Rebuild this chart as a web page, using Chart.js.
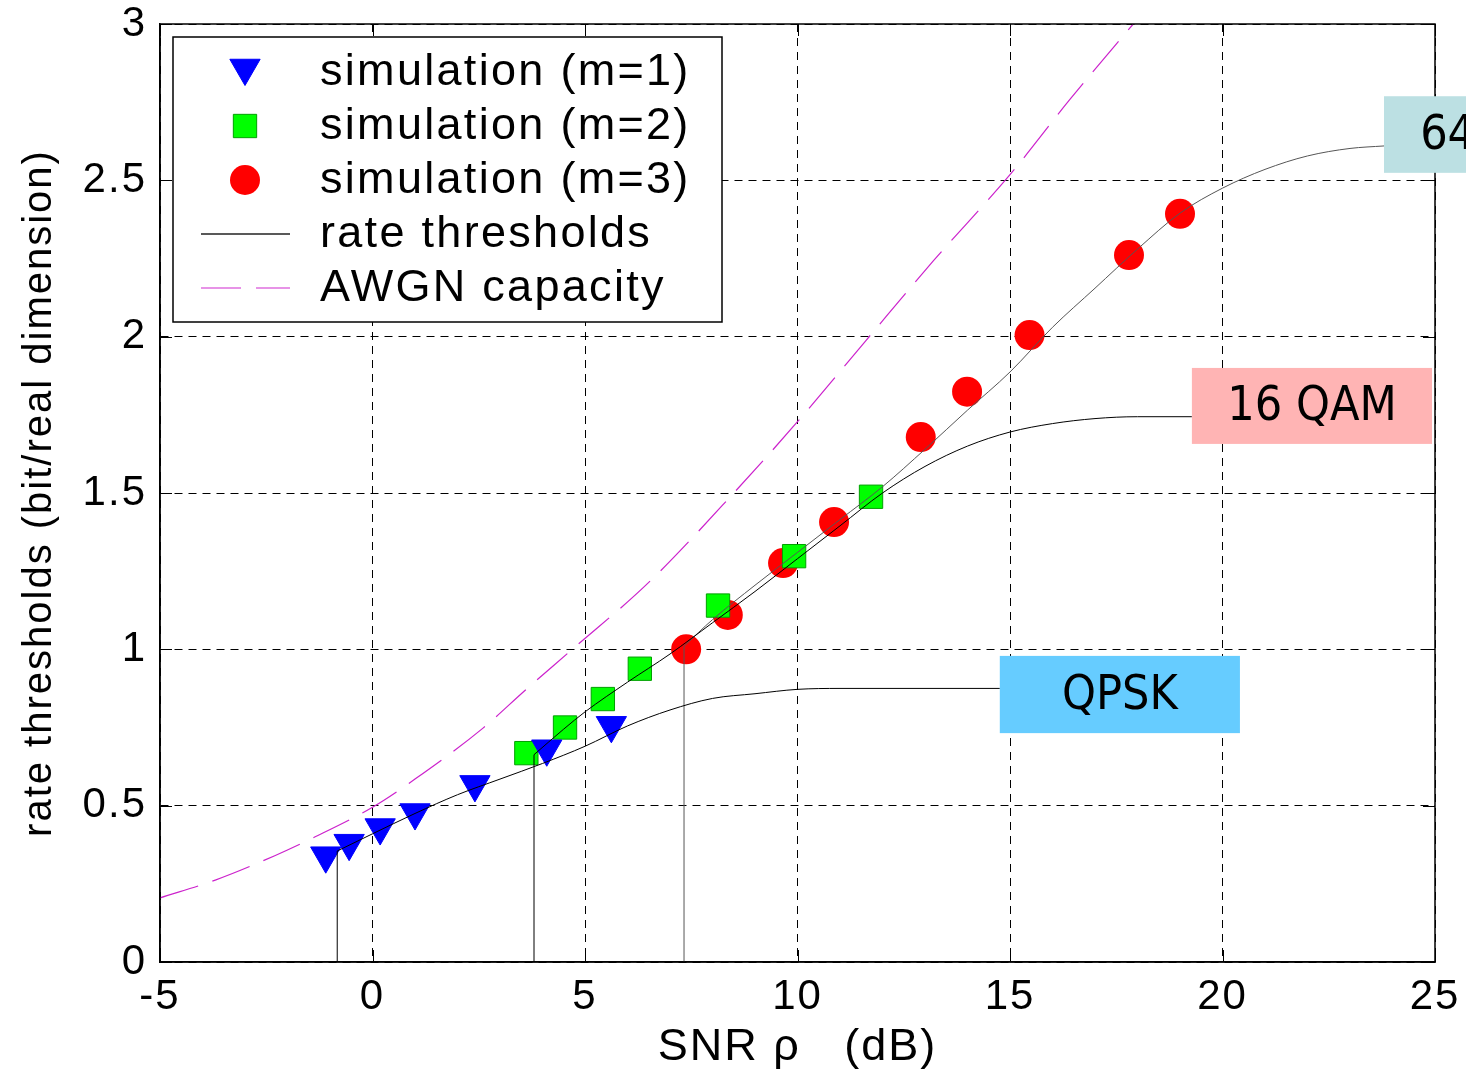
<!DOCTYPE html>
<html>
<head>
<meta charset="utf-8">
<script src="https://cdn.jsdelivr.net/npm/chart.js@4.4.1/dist/chart.umd.min.js"></script>
<style>
  html, body { margin: 0; padding: 0; background: #fff; }
  #wrap { width: 1466px; height: 1073px; position: relative; }
</style>
</head>
<body>
<div id="wrap"><canvas id="chart"></canvas></div>
<script>
// values
const xTicks = [-5, 0, 5, 10, 15, 20, 25];
const yTicks = [0, 0.5, 1, 1.5, 2, 2.5, 3];

const simM1Snr  = [-1.1, -0.55, 0.18, 1.0, 2.41, 4.1, 5.62];
const simM1Rate = [0.34, 0.38, 0.43, 0.478, 0.568, 0.682, 0.757];

const simM2Snr  = [3.62, 4.53, 5.42, 6.29, 8.13, 9.92, 11.73];
const simM2Rate = [0.668, 0.75, 0.841, 0.938, 1.14, 1.298, 1.488];

const simM3Snr  = [7.38, 8.36, 9.66, 10.86, 12.9, 13.99, 15.46, 17.8, 19.0];
const simM3Rate = [1.0, 1.11, 1.276, 1.407, 1.679, 1.824, 2.005, 2.261, 2.393];

// rate threshold curves (each starts with a vertical drop to the axis)
const thrM1Snr  = [-0.83, 0, 1, 2, 3, 4, 5, 6, 7, 8, 9, 10, 11, 14.76];
const thrM1Rate = [0.355, 0.41, 0.475, 0.535, 0.585, 0.635, 0.69, 0.755, 0.806, 0.843, 0.858, 0.872, 0.875, 0.875];

const thrM2Snr  = [3.8, 4.5, 5, 6, 7, 8, 9, 10, 11, 12, 13, 14, 15, 16, 17, 18, 19.28];
const thrM2Rate = [0.663, 0.745, 0.80, 0.895, 0.985, 1.085, 1.185, 1.29, 1.395, 1.50, 1.585, 1.65, 1.695, 1.722, 1.738, 1.744, 1.744];

const thrM3Snr  = [7.33, 8, 9, 10, 11, 12, 13, 14, 15, 16, 17, 18, 19, 20, 21, 22, 23, 23.8];
const thrM3Rate = [1.01, 1.095, 1.205, 1.31, 1.415, 1.52, 1.64, 1.765, 1.887, 2.03, 2.155, 2.28, 2.395, 2.475, 2.535, 2.578, 2.602, 2.61];

const awgnSnr  = [-5, -3.7, -2.3, -1.4, 0, 1, 2.6, 3.6, 4.7, 6.5, 8.5, 10, 11.6, 13.2, 15, 16.4, 17.9];
const awgnRate = [0.205, 0.262, 0.34, 0.397, 0.495, 0.585, 0.748, 0.87, 1.0, 1.214, 1.5, 1.728, 1.986, 2.243, 2.518, 2.757, 3.0];

// modulation labels, placed in data units
const modLabels = [
  { text: 'QPSK',   x0: 14.76, x1: 20.41, y0: 0.732, y1: 0.979, fill: '#66CCFF', textX: null },
  { text: '16 QAM', x0: 19.28, x1: 24.93, y0: 1.657, y1: 1.90,  fill: '#FFB4B4', textX: null },
  { text: '64 QAM', x0: 23.8,  x1: 27.0,  y0: 2.524, y1: 2.769, fill: '#BCE0E3', textX: 24.65 }
];

const toPts = (xs, ys) => xs.map((x, i) => ({ x: x, y: ys[i] }));
const dropLine = (xs, ys) => [{ x: xs[0], y: 0 }, { x: xs[0], y: ys[0] }];

const FONT = "'Liberation Sans', Arial, sans-serif";
const BOX_FONT = "'DejaVu Sans Condensed', 'DejaVu Sans', sans-serif";

const frameAndLabels = {
  id: 'frameAndLabels',
  beforeDraw(chart) {
    chart.ctx.letterSpacing = '2px';
  },
  afterDraw(chart) {
    const ctx = chart.ctx;
    const { left, right, top, bottom } = chart.chartArea;
    const xs = chart.scales.x, ys = chart.scales.y;
    ctx.save();
    ctx.letterSpacing = '0px';

    // inward ticks
    ctx.strokeStyle = '#000';
    ctx.lineWidth = 1;
    ctx.beginPath();
    xTicks.forEach(v => {
      const px = Math.round(xs.getPixelForValue(v)) + 0.5;
      ctx.moveTo(px, bottom); ctx.lineTo(px, bottom - 12);
      ctx.moveTo(px, top); ctx.lineTo(px, top + 12);
    });
    yTicks.forEach(v => {
      const py = Math.round(ys.getPixelForValue(v)) + 0.5;
      ctx.moveTo(left, py); ctx.lineTo(left + 12, py);
      ctx.moveTo(right, py); ctx.lineTo(right - 12, py);
    });
    ctx.stroke();

    // frame
    ctx.lineWidth = 1.5;
    ctx.strokeRect(left, top, right - left, bottom - top);

    // modulation boxes
    modLabels.forEach(m => {
      const x0 = xs.getPixelForValue(m.x0), x1 = xs.getPixelForValue(m.x1);
      const y0 = ys.getPixelForValue(m.y0), y1 = ys.getPixelForValue(m.y1);
      ctx.fillStyle = m.fill;
      ctx.fillRect(x0, y1, x1 - x0, y0 - y1);
      ctx.fillStyle = '#000';
      ctx.font = '48px ' + BOX_FONT;
      ctx.textBaseline = 'middle';
      if (m.textX === null) {
        ctx.textAlign = 'center';
        ctx.fillText(m.text, (x0 + x1) / 2, (y0 + y1) / 2 + 2);
      } else {
        ctx.textAlign = 'left';
        ctx.fillText(m.text, xs.getPixelForValue(m.textX), (y0 + y1) / 2 + 2);
      }
    });

    // legend
    const lx = left + 13, ly = top + 13, lw = 549, lh = 285;
    ctx.fillStyle = '#fff';
    ctx.fillRect(lx, ly, lw, lh);
    ctx.lineWidth = 1.5;
    ctx.strokeStyle = '#000';
    ctx.strokeRect(lx, ly, lw, lh);

    const items = chart.data.datasets.filter(d => d.label);
    items.forEach((d, i) => {
      const cy = ly + 35 + i * 54;
      const sx = lx + 72;
      if (d.showLine) {
        ctx.save();
        ctx.strokeStyle = d.legendColor || d.borderColor;
        ctx.lineWidth = d.borderWidth + 0.3;
        ctx.setLineDash(d.borderDash || []);
        ctx.beginPath();
        ctx.moveTo(lx + 28, cy);
        ctx.lineTo(lx + 117, cy);
        ctx.stroke();
        ctx.restore();
      } else {
        ctx.save();
        ctx.fillStyle = d.pointBackgroundColor;
        ctx.strokeStyle = d.pointBorderColor;
        ctx.lineWidth = d.pointBorderWidth;
        Chart.helpers.drawPoint(ctx, {
          pointStyle: d.pointStyle,
          radius: d.pointRadius,
          rotation: d.pointRotation || 0,
          borderWidth: d.pointBorderWidth
        }, sx, cy + (d.pointStyle === 'triangle' ? -4 : 0));
        ctx.restore();
      }
      ctx.fillStyle = '#000';
      ctx.font = '45px ' + FONT;
      ctx.letterSpacing = '2.3px';
      ctx.textAlign = 'left';
      ctx.textBaseline = 'middle';
      ctx.fillText(d.label, lx + 147, cy + 1);
      ctx.letterSpacing = '0px';
    });
    ctx.restore();
  }
};

const lineBase = { showLine: true, pointRadius: 0, pointHoverRadius: 0, fill: false, order: 0 };
const curve = Object.assign({ cubicInterpolationMode: 'monotone' }, lineBase);
const straight = Object.assign({ tension: 0 }, lineBase);

// keep the layout padding in charge of the plot box, not the label overhang
const noOverhang = s => { s.paddingTop = 0; s.paddingBottom = 0; s.paddingLeft = 0; s.paddingRight = 0; };

new Chart(document.getElementById('chart'), {
  type: 'scatter',
  data: {
    datasets: [
      { label: 'simulation (m=1)', data: toPts(simM1Snr, simM1Rate), pointStyle: 'triangle', pointRotation: 180,
        pointRadius: 17.5, pointBackgroundColor: '#0000FF', pointBorderColor: '#0000FF', pointBorderWidth: 1, order: 1 },
      { label: 'simulation (m=2)', data: toPts(simM2Snr, simM2Rate), pointStyle: 'rect',
        pointRadius: 16.5, pointBackgroundColor: '#00FF00', pointBorderColor: '#00A000', pointBorderWidth: 1, order: 1 },
      { label: 'simulation (m=3)', data: toPts(simM3Snr, simM3Rate), pointStyle: 'circle',
        pointRadius: 15, pointBackgroundColor: '#FF0000', pointBorderColor: '#FF0000', pointBorderWidth: 0, order: 1 },
      Object.assign({ label: 'rate thresholds', data: toPts(thrM1Snr, thrM1Rate), borderColor: '#000', borderWidth: 1, legendColor: '#222' }, curve),
      Object.assign({ data: toPts(thrM2Snr, thrM2Rate), borderColor: '#000', borderWidth: 1 }, curve),
      Object.assign({ data: toPts(thrM3Snr, thrM3Rate), borderColor: '#555', borderWidth: 1 }, curve),
      Object.assign({ data: dropLine(thrM1Snr, thrM1Rate), borderColor: '#000', borderWidth: 1 }, straight),
      Object.assign({ data: dropLine(thrM2Snr, thrM2Rate), borderColor: '#000', borderWidth: 1 }, straight),
      Object.assign({ data: dropLine(thrM3Snr, thrM3Rate), borderColor: '#555', borderWidth: 1 }, straight),
      Object.assign({ label: 'AWGN capacity', data: toPts(awgnSnr, awgnRate), borderColor: '#CC22CC', borderWidth: 1.2,
        borderDash: [40, 15], legendColor: '#E070E0' }, curve)
    ]
  },
  options: {
    responsive: true,
    maintainAspectRatio: false,
    animation: false,
    layout: { padding: { top: 24, right: 31, left: 0, bottom: 0 } },
    plugins: { legend: { display: false }, tooltip: { enabled: false } },
    scales: {
      x: {
        type: 'linear', min: -5, max: 25,
        afterBuildTicks: s => { s.ticks = xTicks.map(v => ({ value: v })); },
        afterFit: s => { s.height = 111; noOverhang(s); },
        ticks: { color: '#000', font: { family: FONT, size: 42, lineHeight: 1 }, padding: 14, callback: v => String(v) },
        grid: { color: '#000', lineWidth: 1, drawTicks: false },
        border: { display: true, color: '#000', width: 1.5, dash: [8, 6] },
        title: { display: true, text: 'SNR \u03c1   (dB)', color: '#000', font: { family: FONT, size: 45 }, padding: { top: 0, bottom: -2 } }
      },
      y: {
        min: 0, max: 3,
        afterBuildTicks: s => { s.ticks = yTicks.map(v => ({ value: v })); },
        afterFit: s => { s.width = 160; noOverhang(s); },
        ticks: { color: '#000', font: { family: FONT, size: 42, lineHeight: 1 }, padding: 13, callback: v => String(v) },
        grid: { color: '#000', lineWidth: 1, drawTicks: false },
        border: { display: true, color: '#000', width: 1.5, dash: [8, 6] },
        title: { display: true, text: 'rate thresholds (bit/real dimension)', color: '#000', font: { family: FONT, size: 40 }, padding: { top: 16, bottom: 0 } }
      }
    }
  },
  plugins: [frameAndLabels]
});
</script>
</body>
</html>
